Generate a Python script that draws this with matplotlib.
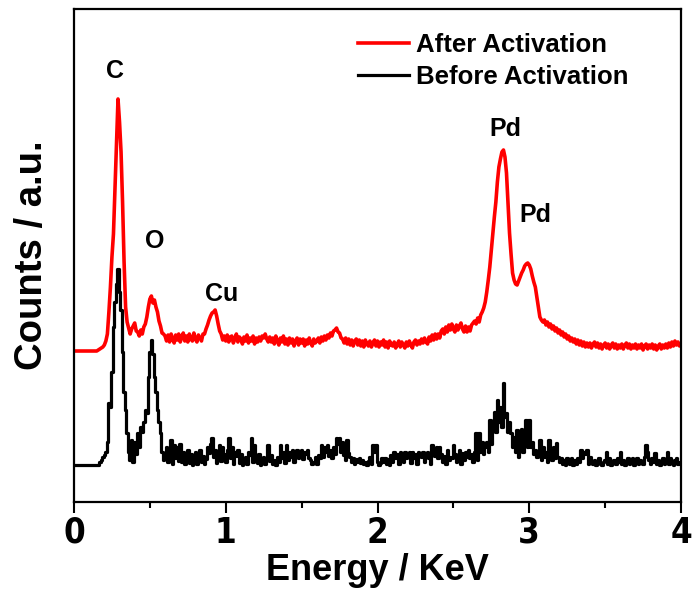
import numpy as np
import matplotlib
matplotlib.use('Agg')
import matplotlib.pyplot as plt
from matplotlib import font_manager

# EDS spectra, counts in arbitrary units
# channel width 0.01 KeV, from 0 to 4 KeV
energy = np.linspace(0, 4, 401)

after_act = [
    151, 151, 151, 151, 151, 151, 151, 151, 151, 151,
    151, 151, 151, 151, 151, 151, 152, 153, 154, 155,
    157, 161, 168, 190, 215, 245, 268, 312, 355, 403,
    380, 350, 300, 240, 195, 180, 174, 168, 173, 176,
    179, 171, 170, 166, 172, 168, 175, 178, 185, 195,
    203, 206, 199, 202, 195, 190, 181, 176, 169, 168,
    166, 161, 167, 160, 168, 163, 159, 167, 162, 168,
    160, 165, 169, 161, 166, 160, 168, 163, 161, 169,
    163, 160, 167, 164, 161, 168, 168, 173, 177, 182,
    186, 189, 190, 192, 186, 178, 171, 168, 162, 166,
    161, 167, 160, 165, 166, 159, 163, 168, 160, 165,
    163, 158, 165, 161, 167, 159, 164, 161, 166, 158,
    164, 160, 165, 161, 166, 164, 168, 163, 160, 165,
    160, 164, 158, 166, 161, 157, 164, 160, 166, 158,
    163, 157, 164, 159, 163, 156, 161, 164, 157, 163,
    159, 163, 156, 162, 158, 164, 159, 156, 163, 159,
    161, 164, 159, 165, 161, 166, 162, 167, 164, 169,
    166, 171, 172, 174, 170, 169, 164, 163, 159, 164,
    158, 163, 157, 162, 156, 161, 163, 157, 162, 156,
    161, 155, 162, 158, 156, 161, 155, 159, 162, 156,
    161, 155, 160, 157, 162, 155, 160, 154, 161, 157,
    156, 160, 154, 158, 161, 155, 160, 157, 154, 160,
    156, 161, 157, 154, 160, 162, 157, 161, 158, 163,
    159, 164, 160, 158, 165, 161, 167, 162, 168, 163,
    168, 164, 171, 173, 168, 175, 170, 177, 172, 178,
    173, 170, 177, 172, 176, 179, 173, 170, 176, 170,
    175, 171, 177, 179, 181, 178, 184, 180, 187, 190,
    194, 200, 210, 222, 235, 252, 268, 285, 300, 320,
    335, 343, 350, 352, 345, 329, 300, 269, 248, 229,
    222, 218, 217, 221, 225, 229, 232, 236, 238, 239,
    237, 233, 226, 220, 215, 205, 195, 185, 182, 180,
    182, 177, 180, 175, 178, 173, 176, 171, 174, 169,
    172, 167, 170, 165, 168, 163, 166, 161, 164, 160,
    163, 158, 162, 157, 161, 156, 160, 155, 159, 155,
    159, 154, 158, 160, 155, 159, 154, 158, 153, 157,
    159, 154, 158, 153, 157, 159, 154, 158, 153, 157,
    154, 158, 153, 157, 159, 154, 158, 153, 157, 154,
    158, 153, 157, 154, 158, 152, 156, 158, 153, 157,
    154, 158, 153, 157, 152, 156, 158, 153, 157, 154,
    158, 154, 159, 155, 160, 156, 161, 157, 160, 156,
    158]

before_act = [
    37, 37, 37, 37, 37, 37, 37, 37, 37, 37,
    37, 37, 37, 37, 37, 37, 37, 40, 42, 45,
    47, 50, 60, 99, 95, 130, 175, 200, 218, 233,
    210, 192, 150, 110, 92, 69, 50, 42, 62, 40,
    60, 48, 69, 55, 75, 70, 80, 92, 89, 125,
    150, 162, 148, 125, 110, 92, 80, 69, 50, 42,
    45, 55, 40, 48, 62, 38, 57, 44, 55, 41,
    58, 40, 50, 38, 45, 52, 39, 48, 37, 44,
    50, 38, 47, 52, 40, 46, 38, 43, 55, 49,
    58, 64, 45, 52, 39, 47, 57, 41, 55, 48,
    40, 52, 64, 44, 55, 38, 50, 46, 52, 39,
    48, 37, 42, 45, 38, 50, 47, 64, 40, 57,
    43, 39, 48, 37, 42, 45, 38, 44, 57, 41,
    47, 38, 42, 37, 45, 40, 57, 44, 50, 39,
    57, 42, 50, 45, 52, 40, 49, 52, 44, 50,
    52, 43, 50, 48, 52, 44, 42, 38, 40, 45,
    38, 47, 44, 57, 45, 55, 50, 57, 46, 52,
    44, 55, 48, 64, 58, 64, 50, 60, 47, 42,
    62, 49, 45, 40, 44, 38, 43, 40, 44, 39,
    42, 38, 40, 37, 41, 45, 38, 57, 50, 57,
    40, 37, 39, 44, 40, 44, 38, 43, 37, 47,
    40, 50, 44, 48, 38, 50, 45, 40, 50, 44,
    48, 50, 39, 50, 44, 48, 38, 50, 46, 45,
    50, 40, 48, 50, 44, 38, 57, 50, 46, 55,
    44, 55, 48, 40, 46, 38, 52, 42, 45, 44,
    57, 48, 40, 45, 52, 38, 49, 42, 50, 45,
    52, 44, 48, 40, 50, 69, 42, 69, 50, 60,
    48, 55, 60, 50, 82, 58, 75, 90, 70, 102,
    80, 95, 75, 119, 85, 89, 70, 80, 69, 55,
    65, 50, 72, 45, 60, 73, 50, 68, 82, 55,
    82, 55, 60, 48, 52, 45, 50, 62, 42, 55,
    45, 50, 40, 62, 48, 42, 55, 44, 59, 45,
    40, 44, 38, 42, 37, 44, 40, 38, 44, 37,
    42, 38, 44, 40, 52, 44, 50, 48, 52, 38,
    45, 40, 38, 42, 37, 40, 44, 38, 37, 40,
    42, 50, 38, 44, 37, 40, 42, 38, 44, 40,
    50, 38, 42, 37, 40, 44, 38, 42, 44, 37,
    40, 44, 38, 42, 40, 38, 45, 57, 50, 42,
    38, 44, 40, 49, 38, 42, 37, 40, 44, 38,
    42, 50, 38, 44, 40, 37, 42, 44, 38, 40,
    38]

# element labels: (text, energy, counts)
peak_names = ['C', 'O', 'Cu', 'Pd', 'Pd']
peak_x = [0.27, 0.534, 0.975, 2.84, 3.04]
peak_y = [431, 261, 208, 373, 287]

plt.rcParams['font.family'] = ['Liberation Sans', 'DejaVu Sans']
plt.rcParams['font.weight'] = 'bold'

# tick digits in the original are a narrow face
cond = font_manager.FontProperties(family='DejaVu Sans', stretch='condensed', weight='bold')
if 'Condensed' in font_manager.findfont(cond):
    tick_font = dict(family='DejaVu Sans', stretch='condensed', size=25)
else:
    tick_font = dict(family='Liberation Sans', size=25)

fig = plt.figure(figsize=(6.92, 5.92), dpi=100)
ax = fig.add_axes([74/692, (592-502)/592, (681-74)/692, (502-9)/592])

ax.plot(energy, after_act, color='#ff0000', lw=2.6, label='After Activation')
ax.plot(energy, before_act, color='black', lw=2.3, drawstyle='steps-mid', label='Before Activation')

for name, px, py in zip(peak_names, peak_x, peak_y):
    ax.text(px, py, name, fontsize=18, fontweight='bold', ha='center', va='center')

ax.set_xlim(0, 4)
ax.set_ylim(0, 493)
ax.set_xticks([0, 1, 2, 3, 4])
ax.set_xticks([0.5, 1.5, 2.5, 3.5], minor=True)
ax.set_yticks([])
ax.tick_params(axis='x', which='major', length=8, width=1.5, direction='out', pad=2)
ax.tick_params(axis='x', which='minor', length=4, width=1.5, direction='out')
for lab in ax.get_xticklabels():
    lab.set_fontfamily(tick_font['family'])
    lab.set_fontsize(tick_font['size'])
    lab.set_fontweight('bold')
    if 'stretch' in tick_font:
        lab.set_fontstretch(tick_font['stretch'])
for sp in ax.spines.values():
    sp.set_linewidth(1.6)

ax.set_xlabel('Energy / KeV', fontsize=26, fontweight='bold', labelpad=2)
ax.set_ylabel('Counts / a.u.', fontsize=27.5, fontweight='bold', labelpad=17)

ax.legend(loc='upper left', bbox_to_anchor=(284/607, 1 - 24/493), frameon=False,
          fontsize=18.5, handlelength=2.0, handletextpad=0.25, labelspacing=0.3,
          borderpad=0, borderaxespad=0)

fig.savefig('out.png', dpi=100)
